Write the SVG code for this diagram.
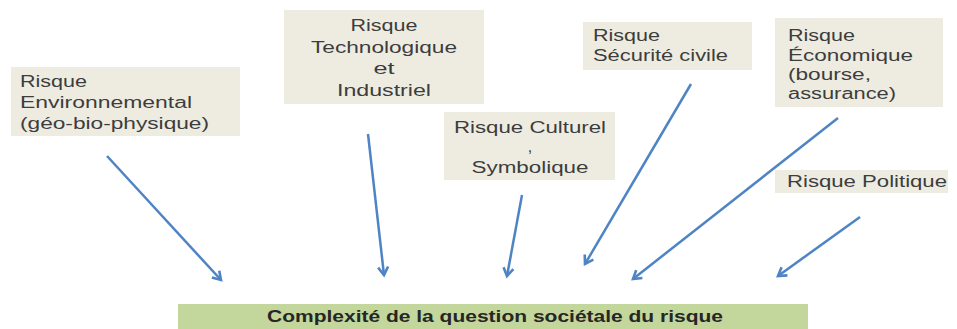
<svg xmlns="http://www.w3.org/2000/svg" width="957" height="329" viewBox="0 0 957 329">
  <style>
    .box { fill: #eeece1; }
    .main { fill: #c3d69b; }
    .t { font-family: "Liberation Sans", "Open Sans", sans-serif; font-size: 16px; fill: #3d3d3d; }
    .b { font-family: "Liberation Sans", "Open Sans", sans-serif; font-size: 16px; font-weight: bold; fill: #262626; }
    .mid { text-anchor: middle; }
    .arrow { stroke: #4f84c4; stroke-width: 2.5; fill: none; marker-end: url(#head); }
  </style>
  <defs>
    <marker id="head" markerUnits="userSpaceOnUse" markerWidth="14" markerHeight="14" refX="10" refY="7" orient="auto" viewBox="0 0 14 14">
      <path d="M2,2 L10,7 L2,12" fill="none" stroke="#4f84c4" stroke-width="2.6" stroke-linejoin="miter"/>
    </marker>
  </defs>
  <rect width="957" height="329" fill="#ffffff"/>

  <g id="connectors">
    <line class="arrow" x1="107" y1="156" x2="221" y2="280"/>
    <line class="arrow" x1="368" y1="134" x2="384" y2="275"/>
    <line class="arrow" x1="522" y1="195" x2="507" y2="276"/>
    <line class="arrow" x1="691" y1="84" x2="585" y2="264"/>
    <line class="arrow" x1="838" y1="118" x2="633" y2="279"/>
    <line class="arrow" x1="860" y1="217" x2="778" y2="276"/>
  </g>

  <g id="n-environnemental">
    <rect class="box" x="11" y="67" width="229" height="69"/>
    <text class="t" x="20" y="87" textLength="67" lengthAdjust="spacingAndGlyphs">Risque</text>
    <text class="t" x="20" y="108" textLength="172" lengthAdjust="spacingAndGlyphs">Environnemental</text>
    <text class="t" x="20" y="129" textLength="189" lengthAdjust="spacingAndGlyphs">(géo-bio-physique)</text>
  </g>

  <g id="n-technologique">
    <rect class="box" x="284" y="10" width="200" height="94"/>
    <text class="t mid" x="384" y="31" textLength="67" lengthAdjust="spacingAndGlyphs">Risque</text>
    <text class="t mid" x="384" y="53" textLength="146" lengthAdjust="spacingAndGlyphs">Technologique</text>
    <text class="t mid" x="384" y="74" textLength="21" lengthAdjust="spacingAndGlyphs">et</text>
    <text class="t mid" x="384" y="96" textLength="94" lengthAdjust="spacingAndGlyphs">Industriel</text>
  </g>

  <g id="n-culturel">
    <rect class="box" x="444" y="112" width="171" height="68"/>
    <text class="t mid" x="530" y="133" textLength="152" lengthAdjust="spacingAndGlyphs">Risque Culturel</text>
    <text class="t mid" x="530" y="152">,</text>
    <text class="t mid" x="530" y="173" textLength="117" lengthAdjust="spacingAndGlyphs">Symbolique</text>
  </g>

  <g id="n-securite">
    <rect class="box" x="583" y="22" width="169" height="48"/>
    <text class="t" x="593" y="41" textLength="67" lengthAdjust="spacingAndGlyphs">Risque</text>
    <text class="t" x="593" y="61" textLength="135" lengthAdjust="spacingAndGlyphs">Sécurité civile</text>
  </g>

  <g id="n-economique">
    <rect class="box" x="775" y="18" width="168" height="89"/>
    <text class="t" x="788" y="41" textLength="67" lengthAdjust="spacingAndGlyphs">Risque</text>
    <text class="t" x="788" y="61" textLength="125" lengthAdjust="spacingAndGlyphs">Économique</text>
    <text class="t" x="788" y="80" textLength="83" lengthAdjust="spacingAndGlyphs">(bourse,</text>
    <text class="t" x="788" y="99" textLength="108" lengthAdjust="spacingAndGlyphs">assurance)</text>
  </g>

  <g id="n-politique">
    <rect class="box" x="775" y="170" width="173" height="23"/>
    <text class="t" x="787" y="187" textLength="160" lengthAdjust="spacingAndGlyphs">Risque Politique</text>
  </g>

  <g id="n-complexite">
    <rect class="main" x="178" y="304" width="630" height="25"/>
    <text class="b mid" x="495" y="322" textLength="456" lengthAdjust="spacingAndGlyphs">Complexité de la question sociétale du risque</text>
  </g>
</svg>
